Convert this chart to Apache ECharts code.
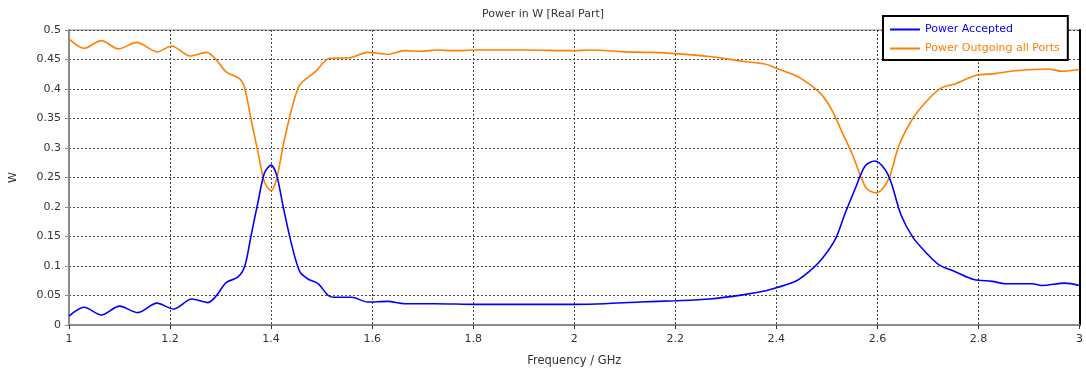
<!DOCTYPE html>
<html>
<head>
<meta charset="utf-8">
<title>Power in W [Real Part]</title>
<script src="https://cdn.jsdelivr.net/npm/echarts@6/dist/echarts.min.js"></script>
<style>
  html, body { margin: 0; padding: 0; background: #fff; }
  #chart { width: 1086px; height: 373px; }
</style>
</head>
<body>
<div id="chart"></div>
<script>
// Frequency axis ticks (GHz) and power axis ticks (W)
const xTicks = [1, 1.2, 1.4, 1.6, 1.8, 2, 2.2, 2.4, 2.6, 2.8, 3];
const yTicks = [0, 0.05, 0.1, 0.15, 0.2, 0.25, 0.3, 0.35, 0.4, 0.45, 0.5];

// Power Accepted: sample frequencies (GHz) and values (W)
const freqAccepted = [
  1.000, 1.030, 1.064, 1.100, 1.136, 1.174, 1.207, 1.243, 1.275, 1.292,
  1.311, 1.334, 1.348, 1.360, 1.374, 1.387, 1.400, 1.411, 1.424, 1.441,
  1.457, 1.473, 1.493, 1.513, 1.526, 1.559, 1.591, 1.631, 1.664, 1.723,
  1.808, 1.900, 2.000, 2.060, 2.130, 2.200, 2.268, 2.333, 2.379, 2.400,
  2.438, 2.464, 2.490, 2.517, 2.536, 2.556, 2.576, 2.595, 2.614, 2.627,
  2.647, 2.670, 2.696, 2.722, 2.755, 2.791, 2.827, 2.853, 2.906, 2.925,
  2.971, 3.000
];
const powerAccepted = [
  0.015, 0.030, 0.017, 0.032, 0.021, 0.037, 0.027, 0.044, 0.038, 0.050,
  0.072, 0.081, 0.100, 0.150, 0.208, 0.258, 0.271, 0.254, 0.200, 0.135,
  0.090, 0.078, 0.070, 0.050, 0.047, 0.047, 0.039, 0.040, 0.036, 0.036,
  0.035, 0.035, 0.035, 0.036, 0.039, 0.041, 0.044, 0.051, 0.058, 0.063,
  0.074, 0.090, 0.112, 0.146, 0.189, 0.231, 0.270, 0.278, 0.265, 0.242,
  0.186, 0.149, 0.123, 0.102, 0.090, 0.077, 0.074, 0.070, 0.070, 0.067,
  0.071, 0.067
];

// Power Outgoing all Ports: sample frequencies (GHz) and values (W)
const freqOutgoing = [
  1.000, 1.030, 1.064, 1.098, 1.134, 1.175, 1.203, 1.240, 1.272, 1.292,
  1.311, 1.338, 1.348, 1.360, 1.374, 1.387, 1.400, 1.411, 1.424, 1.441,
  1.457, 1.487, 1.516, 1.555, 1.591, 1.631, 1.664, 1.696, 1.729, 1.762,
  1.808, 1.900, 2.000, 2.030, 2.100, 2.150, 2.200, 2.268, 2.333, 2.379,
  2.400, 2.438, 2.464, 2.490, 2.510, 2.530, 2.550, 2.566, 2.579, 2.597,
  2.610, 2.624, 2.643, 2.670, 2.696, 2.725, 2.755, 2.794, 2.833, 2.873,
  2.938, 2.965, 3.000
];
const powerOutgoing = [
  0.485, 0.469, 0.482, 0.468, 0.479, 0.463, 0.473, 0.456, 0.462, 0.449,
  0.429, 0.417, 0.401, 0.350, 0.293, 0.242, 0.228, 0.248, 0.305, 0.367,
  0.407, 0.429, 0.452, 0.453, 0.462, 0.459, 0.465, 0.464, 0.466, 0.465,
  0.466, 0.466, 0.465, 0.466, 0.463, 0.462, 0.460, 0.455, 0.447, 0.442,
  0.435, 0.423, 0.409, 0.390, 0.364, 0.327, 0.290, 0.254, 0.231, 0.224,
  0.231, 0.251, 0.305, 0.350, 0.378, 0.401, 0.409, 0.423, 0.426, 0.431,
  0.434, 0.430, 0.433
];

const BLUE = '#0000ff';
const ORANGE = '#ff8000';
const FONT = 'DejaVu Sans';
const TEXT = '#333333';

const zip = (xs, ys) => xs.map((x, i) => [x, ys[i]]);
const fmt = v => String(+v.toFixed(2));

const chart = echarts.init(document.getElementById('chart'), null, { renderer: 'canvas' });

chart.setOption({
  animation: false,
  backgroundColor: '#ffffff',
  textStyle: { fontFamily: FONT },
  title: {
    text: 'Power in W [Real Part]',
    left: 'center',
    top: 4,
    textStyle: { fontFamily: FONT, fontSize: 11, fontWeight: 'normal', color: TEXT }
  },
  legend: {
    orient: 'vertical',
    left: 883,
    top: 16,
    padding: [8, 8, 6, 7],
    itemGap: 8,
    itemWidth: 30,
    itemHeight: 2,
    icon: 'rect',
    backgroundColor: '#ffffff',
    borderColor: '#000000',
    borderWidth: 2,
    borderRadius: 0,
    textStyle: { fontFamily: FONT, fontSize: 11, padding: [0, 0, 0, 0] },
    data: [
      { name: 'Power Accepted', textStyle: { color: BLUE } },
      { name: 'Power Outgoing all Ports', textStyle: { color: ORANGE } }
    ]
  },
  grid: {
    left: 65,
    right: 6,
    top: 30,
    bottom: 48,
    show: true,
    borderColor: '#8c8c8c',
    borderWidth: 1
  },
  xAxis: {
    type: 'value',
    min: xTicks[0],
    max: xTicks[xTicks.length - 1],
    interval: 0.2,
    name: 'Frequency / GHz',
    nameLocation: 'middle',
    nameGap: 30,
    nameTextStyle: { fontFamily: FONT, fontSize: 11.5, color: TEXT },
    axisLine: { show: true, lineStyle: { color: '#8c8c8c', width: 2 } },
    axisTick: { show: true, length: 4, lineStyle: { color: '#333' } },
    axisLabel: {
      fontFamily: FONT, fontSize: 11, color: TEXT, margin: 9,
      formatter: fmt
    },
    splitLine: { show: true, lineStyle: { color: '#444', type: [2, 2], width: 1 } }
  },
  yAxis: [
    {
      type: 'value',
      min: yTicks[0],
      max: yTicks[yTicks.length - 1],
      interval: 0.05,
      name: 'W',
      nameLocation: 'middle',
      nameGap: 50,
      nameRotate: 90,
      nameTextStyle: { fontFamily: FONT, fontSize: 11, color: TEXT },
      axisLine: { show: true, lineStyle: { color: '#8c8c8c', width: 2 } },
      axisTick: { show: true, length: 4, lineStyle: { color: '#8c8c8c' } },
      axisLabel: {
        fontFamily: FONT, fontSize: 11, color: TEXT, margin: 8,
        formatter: fmt
      },
      splitLine: { show: true, lineStyle: { color: '#444', type: [2, 2], width: 1 } }
    },
    {
      type: 'value',
      position: 'right',
      min: yTicks[0],
      max: yTicks[yTicks.length - 1],
      interval: 0.05,
      axisLine: { show: true, lineStyle: { color: '#000000', width: 2 } },
      axisTick: { show: false },
      axisLabel: { show: false },
      splitLine: { show: false }
    }
  ],
  series: [
    {
      name: 'Power Accepted',
      type: 'line',
      data: zip(freqAccepted, powerAccepted),
      showSymbol: false,
      symbol: 'none',
      smooth: 0.3,
      color: BLUE,
      lineStyle: { color: BLUE, width: 1.6 },
      z: 3
    },
    {
      name: 'Power Outgoing all Ports',
      type: 'line',
      data: zip(freqOutgoing, powerOutgoing),
      showSymbol: false,
      symbol: 'none',
      smooth: 0.3,
      color: ORANGE,
      lineStyle: { color: ORANGE, width: 1.6 },
      z: 2
    }
  ]
});
</script>
</body>
</html>
